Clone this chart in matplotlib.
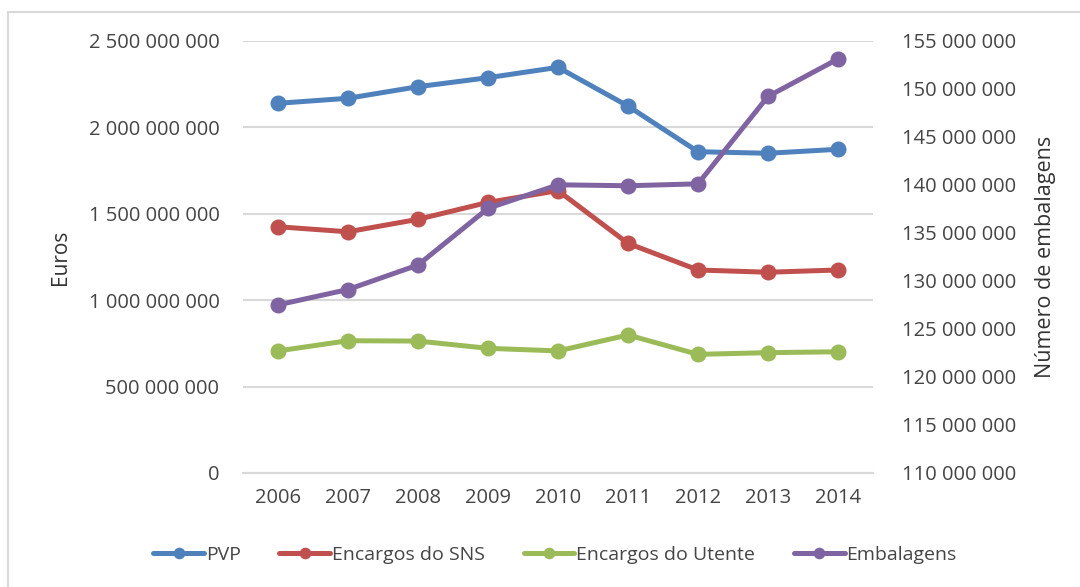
import matplotlib
matplotlib.use('Agg')
import matplotlib.pyplot as plt
from matplotlib.ticker import FuncFormatter, MultipleLocator
from matplotlib.patches import Rectangle

plt.rcParams['font.family'] = ['Open Sans', 'DejaVu Sans']

years = ['2006', '2007', '2008', '2009', '2010', '2011', '2012', '2013', '2014']
pvp = [2.138e9, 2.167e9, 2.234e9, 2.286e9, 2.346e9, 2.122e9, 1.858e9, 1.849e9, 1.872e9]
sns = [1.424e9, 1.395e9, 1.467e9, 1.565e9, 1.633e9, 1.328e9, 1.174e9, 1.161e9, 1.174e9]
utente = [0.706e9, 0.765e9, 0.763e9, 0.721e9, 0.706e9, 0.798e9, 0.686e9, 0.696e9, 0.701e9]
embalagens = [127.5e6, 129.1e6, 131.65e6, 137.55e6, 140.0e6, 139.9e6, 140.1e6, 149.2e6, 153.1e6]

c_blue, c_red, c_green, c_purple = '#4F81BD', '#C0504D', '#9BBB59', '#8064A2'
txt = '#454545'

def spaced(v, pos):
    return f"{int(round(v)):,}".replace(",", " ")

fig = plt.figure(figsize=(10.8, 5.87), dpi=100)
fig.patches.append(Rectangle((8/1080, -0.1), 1.2, 1 - 12/587 + 0.1, transform=fig.transFigure,
                             fill=False, edgecolor='#D9D9D9', linewidth=1.5))
ax = fig.add_axes([243/1080, 1 - 473/587, 630/1080, (473 - 40.7)/587])
ax2 = ax.twinx()

x = list(range(len(years)))
kw = dict(linewidth=3.6, marker='o', markersize=10.5, solid_capstyle='round')
l1, = ax.plot(x, pvp, color=c_blue, label='PVP', **kw)
l2, = ax.plot(x, sns, color=c_red, label='Encargos do SNS', **kw)
l3, = ax.plot(x, utente, color=c_green, label='Encargos do Utente', **kw)
l4, = ax2.plot(x, embalagens, color=c_purple, label='Embalagens', **kw)

ax.set_xlim(-0.5, len(years) - 0.5)
ax.set_ylim(0, 2.5e9)
ax.yaxis.set_major_locator(MultipleLocator(5e8))
ax.yaxis.set_major_formatter(FuncFormatter(spaced))
ax2.set_ylim(110e6, 155e6)
ax2.yaxis.set_major_locator(MultipleLocator(5e6))
ax2.yaxis.set_major_formatter(FuncFormatter(spaced))

ax.set_xticks(x)
ax.set_xticklabels(years)
ax.grid(axis='y', color='#D9D9D9', linewidth=1.5)
ax.set_axisbelow(True)
for a in (ax, ax2):
    for s in a.spines.values():
        s.set_visible(False)
ax.spines['bottom'].set_visible(True)
ax.spines['bottom'].set_color('#D9D9D9')
ax.spines['bottom'].set_linewidth(1.5)

ax.tick_params(axis='y', length=0, pad=17, labelsize=14.5, labelcolor=txt)
ax.tick_params(axis='x', length=0, pad=11, labelsize=14.5, labelcolor=txt)
ax2.tick_params(axis='y', length=0, pad=21, labelsize=14.5, labelcolor=txt)

fig.text(60/1080, 1 - 257/587, 'Euros', rotation=90, ha='center', va='center',
         fontsize=15, color='#333333')
fig.text(1046/1080, 1 - 257/587, 'Número de embalagens', rotation=90, ha='center', va='center',
         fontsize=15.5, color='#333333')

fig.legend(handles=[l1, l2, l3, l4], loc='center', bbox_to_anchor=(555/1080, 1 - 555/587),
           ncol=4, frameon=False, fontsize=14, labelcolor=txt, handlelength=2.6,
           handletextpad=0.1, columnspacing=2.0, markerscale=0.7)

fig.savefig('out.png', dpi=100)
